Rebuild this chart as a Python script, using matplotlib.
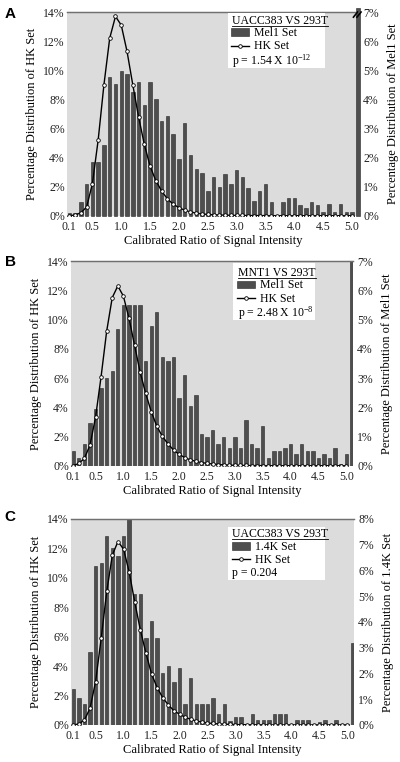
import numpy as np
from matplotlib import pyplot as plt
from matplotlib.patches import Patch, Rectangle
from matplotlib.lines import Line2D

plt.rcParams['font.family'] = ['Liberation Serif', 'DejaVu Serif']
plt.rcParams['mathtext.default'] = 'regular'

# 0.1 .. 5.0 bins, the last bar collects everything above 5.0
ratio = [round(0.1 * i, 1) for i in range(1, 52)]
ratio_hk = ratio[:50]

xtick_vals = [0.1, 0.5, 1.0, 1.5, 2.0, 2.5, 3.0, 3.5, 4.0, 4.5, 5.0]
xtick_labels = ['0.1', '0.5', '1.0', '1.5', '2.0', '2.5', '3.0', '3.5', '4.0', '4.5', '5.0']
left_ticks = [0, 2, 4, 6, 8, 10, 12, 14]
left_labels = ['0%', '2%', '4%', '6%', '8%', '10%', '12%', '14%']
right_ticks_7 = [0, 1, 2, 3, 4, 5, 6, 7]
right_labels_7 = ['0%', '1%', '2%', '3%', '4%', '5%', '6%', '7%']
right_ticks_8 = [0, 1, 2, 3, 4, 5, 6, 7, 8]
right_labels_8 = ['0%', '1%', '2%', '3%', '4%', '5%', '6%', '7%', '8%']

# panel A: UACC383 vs 293T, Mel1 set (right axis) and HK set (left axis)
a_mel1 = [0.1, 0.1, 0.48, 1.1, 1.85, 1.85, 2.44, 4.76, 4.53, 4.98,
          4.87, 4.26, 4.6, 3.79, 4.6, 4.01, 3.27, 3.41, 2.82, 1.96,
          3.18, 2.07, 1.6, 1.47, 0.86, 1.32, 0.97, 1.45, 1.1, 1.58,
          1.32, 0.96, 0.5, 0.85, 1.1, 0.48, 0.03, 0.48, 0.6, 0.6,
          0.37, 0.25, 0.48, 0.37, 0.13, 0.39, 0.13, 0.39, 0.13, 0.13,
          7.15]
a_hk = [0.0, 0.05, 0.2, 0.6, 2.2, 5.2, 9.0, 12.2, 13.7, 13.1,
        11.3, 9.0, 6.8, 4.9, 3.4, 2.4, 1.7, 1.15, 0.8, 0.55,
        0.38, 0.26, 0.18, 0.12, 0.09, 0.06, 0.05, 0.04, 0.03, 0.02,
        0.02, 0.01, 0.01, 0.01, 0.01, 0, 0, 0, 0, 0,
        0, 0, 0, 0, 0, 0, 0, 0, 0, 0]

# panel B: MNT1 vs 293T
b_mel1 = [0.5, 0.27, 0.74, 1.45, 1.93, 2.65, 3.0, 3.24, 4.67, 5.5,
          5.5, 5.5, 5.5, 3.58, 4.79, 5.27, 3.72, 3.58, 3.72, 2.3,
          3.12, 2.05, 2.42, 1.1, 0.99, 1.22, 0.73, 0.97, 0.62, 0.97,
          0.62, 1.58, 0.73, 0.62, 1.36, 0.27, 0.5, 0.5, 0.62, 0.74,
          0.39, 0.74, 0.5, 0.5, 0.28, 0.39, 0.28, 0.62, 0.07, 0.39,
          7.0]
b_hk = [0.0, 0.16, 0.5, 1.4, 3.3, 6.1, 9.2, 11.5, 12.3, 11.6,
        10.1, 8.25, 6.4, 4.95, 3.7, 2.7, 2.0, 1.5, 1.07, 0.78,
        0.56, 0.4, 0.3, 0.22, 0.16, 0.12, 0.08, 0.06, 0.04, 0.03,
        0.02, 0.02, 0.01, 0.01, 0.01, 0, 0, 0, 0, 0,
        0, 0, 0, 0, 0, 0, 0, 0, 0, 0]

# panel C: UACC383 vs 293T, 1.4K set
c_14k = [1.39, 1.04, 0.82, 2.85, 6.17, 6.28, 7.34, 6.89, 6.58, 7.34,
         8.0, 5.08, 5.08, 3.39, 4.04, 3.39, 2.0, 2.3, 1.68, 2.2,
         0.82, 1.81, 0.82, 0.82, 0.82, 1.04, 0.43, 0.82, 0.17, 0.3,
         0.3, 0.05, 0.43, 0.19, 0.19, 0.19, 0.43, 0.43, 0.43, 0.05,
         0.19, 0.19, 0.19, 0.05, 0.12, 0.19, 0.05, 0.19, 0.05, 0.05,
         3.2]
c_hk = [0.0, 0.07, 0.34, 1.13, 2.95, 5.9, 9.1, 11.56, 12.47, 11.95,
        10.4, 8.34, 6.46, 4.88, 3.47, 2.54, 1.86, 1.36, 0.97, 0.73,
        0.52, 0.39, 0.27, 0.2, 0.14, 0.1, 0.07, 0.05, 0.04, 0.03,
        0.02, 0.02, 0.01, 0.01, 0.01, 0, 0, 0, 0, 0,
        0, 0, 0, 0, 0, 0, 0, 0, 0, 0]

BG = '#dcdcdc'
BAR = '#4e4e4e'
BAR_EDGE = '#262626'
FS = 8.5
LFS = 9

fig = plt.figure(figsize=(4, 7.62), dpi=100)
titles = []


def draw_panel(rect, letter, letter_xy, bars, hk, rticks, rlabels, title, set_name,
               ptext, box, title_xy, leg_xy, p_xy, broken=False):
    ax = fig.add_axes(rect)
    ax2 = ax.twinx()

    # bars on the primary axes (shown on the right), HK line on the twin (left)
    ax.set_facecolor(BG)
    ax.bar(ratio, bars, width=0.06, color=BAR, edgecolor=BAR_EDGE, linewidth=0.4,
           clip_on=not broken, zorder=2)
    ax.set_ylim(0, rticks[-1])
    ax.set_xlim(0.06, 5.12)
    ax.yaxis.tick_right()
    ax.yaxis.set_label_position('right')
    ax.set_yticks(rticks)
    ax.set_yticklabels(rlabels)
    ax.set_ylabel('Percentage Distribution of ' + set_name, fontsize=LFS, labelpad=6)
    ax.set_xticks(xtick_vals)
    ax.set_xticklabels(xtick_labels)
    ax.set_xlabel('Calibrated Ratio of Signal Intensity', fontsize=LFS, labelpad=1.5)
    ax.tick_params(axis='both', length=0, labelsize=FS, colors='#222222')
    ax.tick_params(axis='x', pad=3.5)
    ax.tick_params(axis='y', pad=3)

    ax2.plot(ratio_hk, hk, color='black', lw=1.0, marker='o', ms=2.6,
             mfc='white', mec='black', mew=0.6, zorder=3)
    ax2.set_ylim(0, 14)
    ax2.yaxis.tick_left()
    ax2.yaxis.set_label_position('left')
    ax2.set_yticks(left_ticks)
    ax2.set_yticklabels(left_labels)
    ax2.set_ylabel('Percentage Distribution of HK Set', fontsize=LFS, labelpad=4)
    ax2.tick_params(axis='y', length=0, labelsize=FS, colors='#222222', pad=1.5)

    for a in (ax, ax2):
        for side in ('left', 'right', 'bottom'):
            a.spines[side].set_visible(False)
        a.spines['top'].set_color('#707070')
        a.spines['top'].set_linewidth(0.9)

    # white key box
    ax2.add_patch(Rectangle((box[0], box[1]), box[2] - box[0], box[3] - box[1],
                            transform=ax2.transAxes, facecolor='white',
                            edgecolor='none', zorder=5))
    t = ax2.text(title_xy[0], title_xy[1], title, transform=ax2.transAxes,
                 fontsize=FS, va='center', ha='left', zorder=6)
    titles.append(t)
    handles = [Patch(facecolor=BAR, edgecolor=BAR_EDGE, linewidth=0.4),
               Line2D([], [], color='black', lw=1.0, marker='o', ms=2.6,
                      mfc='white', mec='black', mew=0.6)]
    leg = ax2.legend(handles, [set_name, 'HK Set'], loc='upper left',
                     bbox_to_anchor=leg_xy, frameon=False, fontsize=FS,
                     borderpad=0, borderaxespad=0, labelspacing=0.1,
                     handlelength=1.5, handletextpad=0.4, handleheight=0.6)
    leg.set_zorder(6)
    ax2.text(p_xy[0], p_xy[1], ptext, transform=ax2.transAxes, fontsize=FS,
             va='center', ha='left', zorder=6)

    if broken:
        for dx in (-0.012, 0.0):
            ax2.plot([0.993 + dx, 1.007 + dx], [0.975, 1.0], transform=ax2.transAxes,
                     color='black', lw=1.2, clip_on=False, zorder=7)

    fig.text(letter_xy[0], letter_xy[1], letter, fontsize=11, fontweight='bold',
             family='Liberation Sans', ha='left', va='center')


draw_panel([0.1675, 0.7169, 0.73, 0.2673], 'A', (0.012, 0.982), a_mel1, a_hk,
           right_ticks_7, right_labels_7, 'UACC383 VS 293T', 'Mel1 Set',
           r'p = 1.54 X 10$^{-12}$',
           (0.550, 0.724, 0.884, 0.994), (0.564, 0.957), (0.562, 0.925), (0.564, 0.761),
           broken=True)
draw_panel([0.1775, 0.3888, 0.705, 0.2686], 'B', (0.012, 0.656), b_mel1, b_hk,
           right_ticks_7, right_labels_7, 'MNT1 VS 293T', 'Mel1 Set',
           r'p = 2.48 X 10$^{-8}$',
           (0.573, 0.712, 0.865, 0.989), (0.593, 0.943), (0.590, 0.910), (0.593, 0.747))
draw_panel([0.1775, 0.0486, 0.7075, 0.2703], 'C', (0.012, 0.322), c_14k, c_hk,
           right_ticks_8, right_labels_8, 'UACC383 VS 293T', '1.4K Set',
           'p = 0.204',
           (0.554, 0.704, 0.898, 0.963), (0.570, 0.926), (0.570, 0.893), (0.570, 0.739))

# underline the key titles
fig.canvas.draw()
r = fig.canvas.get_renderer()
for t in titles:
    bb = t.get_window_extent(renderer=r)
    y = (bb.y0 + 1.0) / fig.bbox.height
    fig.add_artist(Line2D([bb.x0 / fig.bbox.width, bb.x1 / fig.bbox.width], [y, y],
                          color='black', lw=0.6))

fig.savefig('out.png', dpi=100)
